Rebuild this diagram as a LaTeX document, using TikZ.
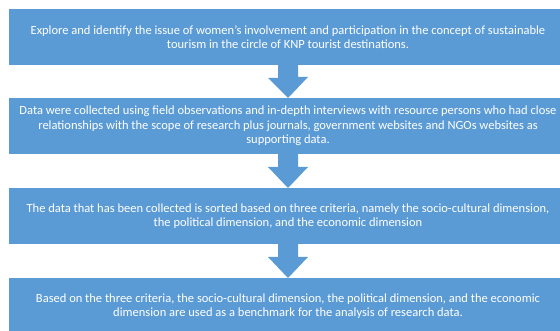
\documentclass[tikz,border=0pt]{standalone}
\usepackage{fontspec}
\setmainfont{Carlito}
\usetikzlibrary{calc}

\definecolor{flowblue}{RGB}{91,155,213}

\tikzset{
  stepbox/.style={fill=flowblue, text=white, align=center, inner sep=0pt, outer sep=0pt,
    minimum width=558pt, minimum height=56pt, font=\fontsize{12.5}{14.3}\selectfont},
  blockarrow/.style={fill=flowblue}
}

\begin{document}
\begin{tikzpicture}[x=1pt,y=-1pt]
\useasboundingbox (0,0) rectangle (560,331);

% Step boxes
\node[stepbox] (explore) at (288,37) {Explore and identify the issue of women's involvement and participation in the concept of sustainable\\tourism in the circle of KNP tourist destinations.};
\node[stepbox] (collect) at (288,126) {Data were collected using field observations and in-depth interviews with resource persons who had close\\relationships with the scope of research plus journals, government websites and NGOs websites as\\supporting data.};
\node[stepbox] (sort) at (288,216) {The data that has been collected is sorted based on three criteria, namely the socio-cultural dimension,\\the political dimension, and the economic dimension};
\node[stepbox] (analyse) at (288,306) {Based on the three criteria, the socio-cultural dimension, the political dimension, and the economic\\dimension are used as a benchmark for the analysis of research data.};

% Block arrows between the steps
\fill[blockarrow] ($(explore.south)+(-10,0)$) -- ++(0,13) -- ++(-10,0) -- (collect.north) -- ($(collect.north)+(20,-21)$) -- ++(-10,0) -- ($(explore.south)+(10,0)$) -- cycle;
\fill[blockarrow] ($(collect.south)+(-10,0)$) -- ++(0,13) -- ++(-10,0) -- (sort.north) -- ($(sort.north)+(20,-21)$) -- ++(-10,0) -- ($(collect.south)+(10,0)$) -- cycle;
\fill[blockarrow] ($(sort.south)+(-10,0)$) -- ++(0,13) -- ++(-10,0) -- (analyse.north) -- ($(analyse.north)+(20,-21)$) -- ++(-10,0) -- ($(sort.south)+(10,0)$) -- cycle;
\end{tikzpicture}
\end{document}
